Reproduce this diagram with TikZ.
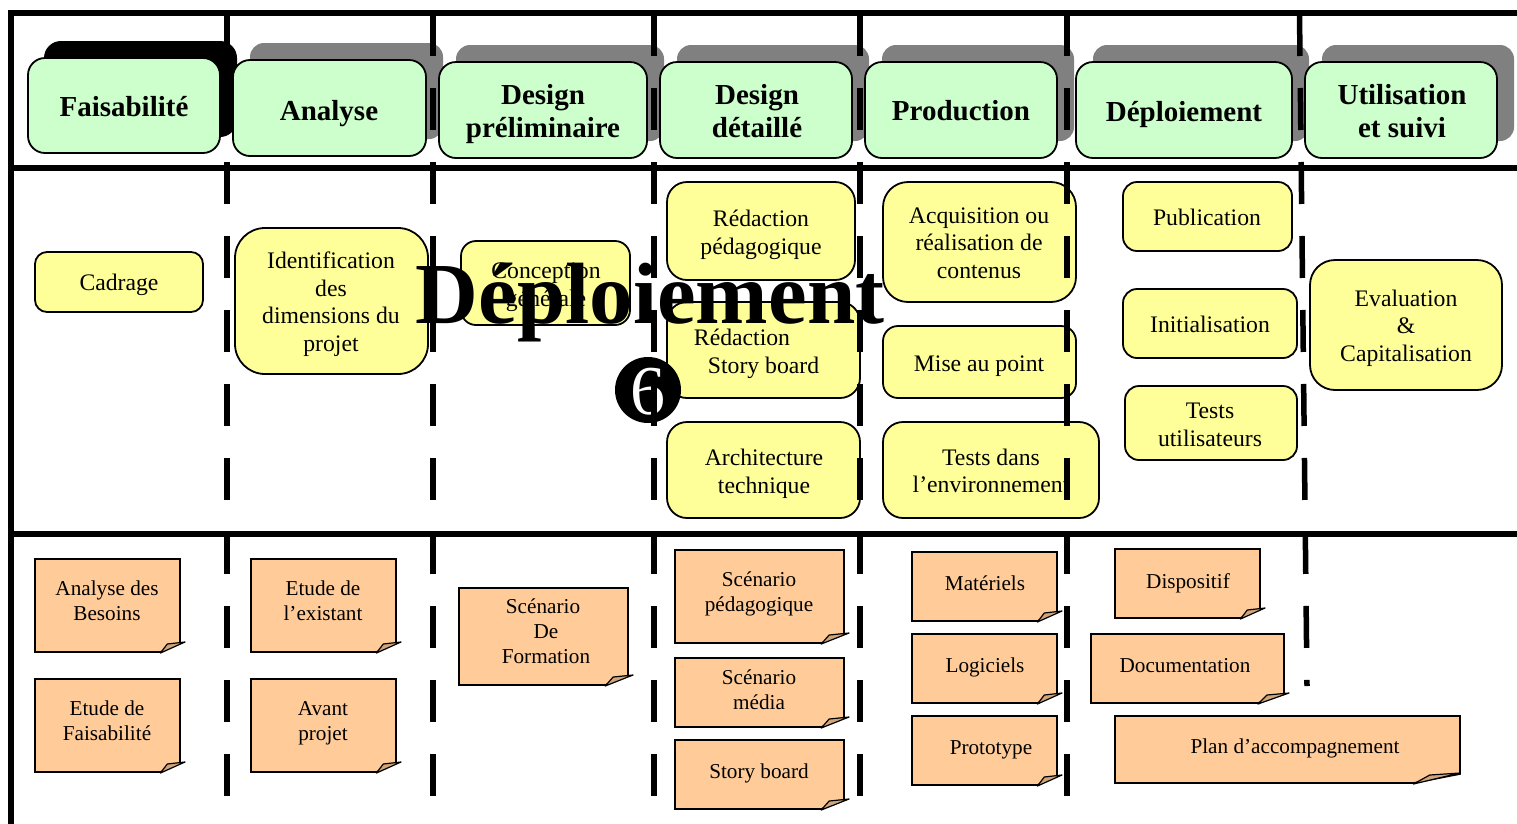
\documentclass[tikz,border=0pt]{standalone}
\usepackage{fontspec}
\setmainfont{Liberation Serif}
\definecolor{hdrfill}{HTML}{CCFFCC}
\definecolor{yelfill}{HTML}{FFFF99}
\definecolor{notefill}{HTML}{FFCC99}
\definecolor{foldfill}{HTML}{CFA67C}
\definecolor{shadegray}{HTML}{808080}
\tikzset{
  hdrbox/.style={draw=black,line width=1.8pt,fill=hdrfill,rounded corners=17pt},
  yelbox/.style={draw=black,line width=1.8pt,fill=yelfill},
  notebody/.style={draw=black,line width=1.6pt,fill=notefill,line join=miter},
  foldpart/.style={draw=black,line width=1.2pt,fill=foldfill,line join=round},
  hdrtext/.style={font=\fontsize{29}{33}\selectfont\bfseries,align=center,inner sep=0pt,text=black},
  yeltext/.style={font=\fontsize{23.7}{27.6}\selectfont,align=center,inner sep=0pt,text=black},
  notetext/.style={font=\fontsize{21.2}{25}\selectfont,align=center,inner sep=0pt,text=black},
  frameline/.style={draw=black,line width=6pt},
  sepline/.style={draw=black,line width=5.5pt,dash pattern=on 42pt off 32pt},
}
\newcommand{\hdrtop}[8]{%
  \path[hdrbox] (#2,#3) rectangle (#4,#5);
  \node[hdrtext] (#1) at (#6,#7) {#8};
}
% yellow box: name, radius, l,t,r,b, tx,ty, text
\newcommand{\yelnode}[9]{%
  \path[yelbox,rounded corners=#2pt] (#3,#4) rectangle (#5,#6);
  \node[yeltext] (#1) at (#7,#8) {#9};
}
% note: name, l,t,r,b, tx,ty, text  (the fold grows with the width)
\newcommand{\notenode}[8]{%
  \pgfmathsetmacro{\cutw}{0.135*(#4-#2)}%
  \pgfmathsetmacro{\tipx}{(#4-#2)>300?0:5}%
  \path[notebody] (#2,#3) -- (#4,#3) -- (#4,#5-9) -- (#4-\cutw,#5) -- (#2,#5) -- cycle;
  \path[foldpart] (#4-\cutw,#5+1) -- (#4-0.65*\cutw,#5-8) -- (#4+\tipx,#5-10) -- cycle;
  \node[notetext] (#1) at (#6,#7) {#8};
}
\begin{document}
\begin{tikzpicture}[x=1pt,y=-1pt]
\useasboundingbox (0,0) rectangle (1517,823);
\fill[white] (0,0) rectangle (1517,823);

% shadows of the headers
\path[fill=black,rounded corners=17pt] (44,41) rectangle (237,137);
\foreach \l/\t/\r/\b in {233/60/426/156,439/62/647/158,660/62/852/158,865/62/1057/158,1076/62/1292/158,1305/62/1497/158}{
  \path[fill=shadegray,rounded corners=14pt] (\l+17,\t-17) rectangle (\r+17,\b-17);
}

% yellow activity boxes
\yelnode{cadrage}{12}{35}{252}{203}{312}{119}{285}{Cadrage}
\yelnode{ident}{30}{235}{228}{428}{374}{331}{304}{Identification\\des\\dimensions du\\projet}
\yelnode{concept}{15}{461}{241}{630}{325}{546}{287}{Conception\\générale}
\yelnode{redped}{20}{667}{182}{855}{280}{761}{235}{Rédaction\\pédagogique}
\yelnode{redstory}{20}{667}{302}{860}{398}{757}{354}{\hspace*{-30pt}Rédaction\\\hspace*{13pt}Story board}
\yelnode{archi}{20}{667}{422}{860}{518}{764}{474}{Architecture\\technique}
\yelnode{acq}{25}{883}{182}{1076}{302}{979}{243}{Acquisition ou\\réalisation de\\contenus}
\yelnode{mise}{15}{883}{326}{1076}{398}{979}{366}{Mise au point}
\yelnode{testenv}{20}{883}{422}{1099}{518}{991}{471}{Tests dans\\l’environnement}
\yelnode{publi}{14}{1123}{182}{1292}{251}{1207}{217}{Publication}
\yelnode{init}{14}{1123}{289}{1297}{358}{1210}{324}{Initialisation}
\yelnode{testuti}{14}{1125}{386}{1297}{460}{1210}{425}{Tests\\utilisateurs}
\yelnode{evalu}{25}{1310}{260}{1502}{390}{1406}{328}{Evaluation\\\&\\Capitalisation}

% orange deliverable notes
\notenode{analbes}{35}{559}{180}{652}{107}{601}{Analyse des\\Besoins}
\notenode{etfais}{35}{679}{180}{772}{107}{721}{Etude de\\Faisabilité}
\notenode{etexist}{251}{559}{396}{652}{323}{601}{Etude de\\l’existant}
\notenode{avant}{251}{679}{396}{772}{323}{723}{Avant\\projet}
\notenode{scenform}{459}{588}{628}{685}{546}{631}{\hspace*{-6pt}Scénario\\De\\Formation}
\notenode{scenped}{675}{550}{844}{643}{759}{594}{Scénario\\pédagogique}
\notenode{scenmed}{675}{658}{844}{727}{759}{690}{Scénario\\média}
\notenode{storyb}{675}{740}{844}{809}{759}{773}{Story board}
\notenode{mater}{912}{552}{1057}{621}{985}{583}{Matériels}
\notenode{logi}{912}{634}{1057}{703}{985}{667}{Logiciels}
\notenode{proto}{912}{716}{1057}{785}{991}{750}{Prototype}
\notenode{dispo}{1115}{549}{1260}{618}{1188}{583}{Dispositif}
\notenode{docu}{1091}{634}{1284}{703}{1185}{666}{Documentation}
\notenode{planacc}{1115}{716}{1460}{783}{1295}{748}{Plan d’accompagnement}

% numbered disc
\node[circle,fill=black,minimum size=66pt,inner sep=0pt] (six) at (648,390) {};
\node[inner sep=0pt,text=white,font=\fontsize{70}{70}\selectfont] (sixnum) at (648,392) {6};

% frame
\coordinate (ftl) at (11,13); \coordinate (ftr) at (1517,13);
\coordinate (fbl) at (11,823);
\coordinate (m1l) at (11,168); \coordinate (m1r) at (1517,168);
\coordinate (m2l) at (11,534); \coordinate (m2r) at (1517,534);
\draw[frameline,line cap=rect] (ftr) -- (ftl) -- (fbl);
\draw[frameline] (m1l) -- (m1r);
\draw[frameline] (m2l) -- (m2r);

% separators
\foreach \i/\x in {a/227,b/433,c/654,d/860,e/1067}{
  \coordinate (s\i t) at (\x,14);
  \coordinate (s\i b) at (\x,796);
  \draw[sepline] (s\i t) -- (s\i b);
}
\coordinate (sft) at (1299.5,14);
\coordinate (sfb) at (1307,686);
\draw[sepline] (sft) -- (sfb);

% header boxes
\hdrtop{h1}{28}{58}{220}{153}{124}{107}{Faisabilité}
\hdrtop{h2}{233}{60}{426}{156}{329}{114}{Analyse}
\hdrtop{h3}{439}{62}{647}{158}{543}{114}{Design\\préliminaire}
\hdrtop{h4}{660}{62}{852}{158}{757}{111}{Design\\détaillé}
\hdrtop{h5}{865}{62}{1057}{158}{961}{111}{Production}
\hdrtop{h6}{1076}{62}{1292}{158}{1184}{115}{Déploiement}
\hdrtop{h7}{1305}{62}{1497}{158}{1402}{111}{Utilisation\\et suivi}

% overlaid title
\node[anchor=base,inner sep=0pt,font=\fontsize{87}{87}\selectfont\bfseries,text=black] (titre) at (650,323) {Déploiement};
\end{tikzpicture}
\end{document}
